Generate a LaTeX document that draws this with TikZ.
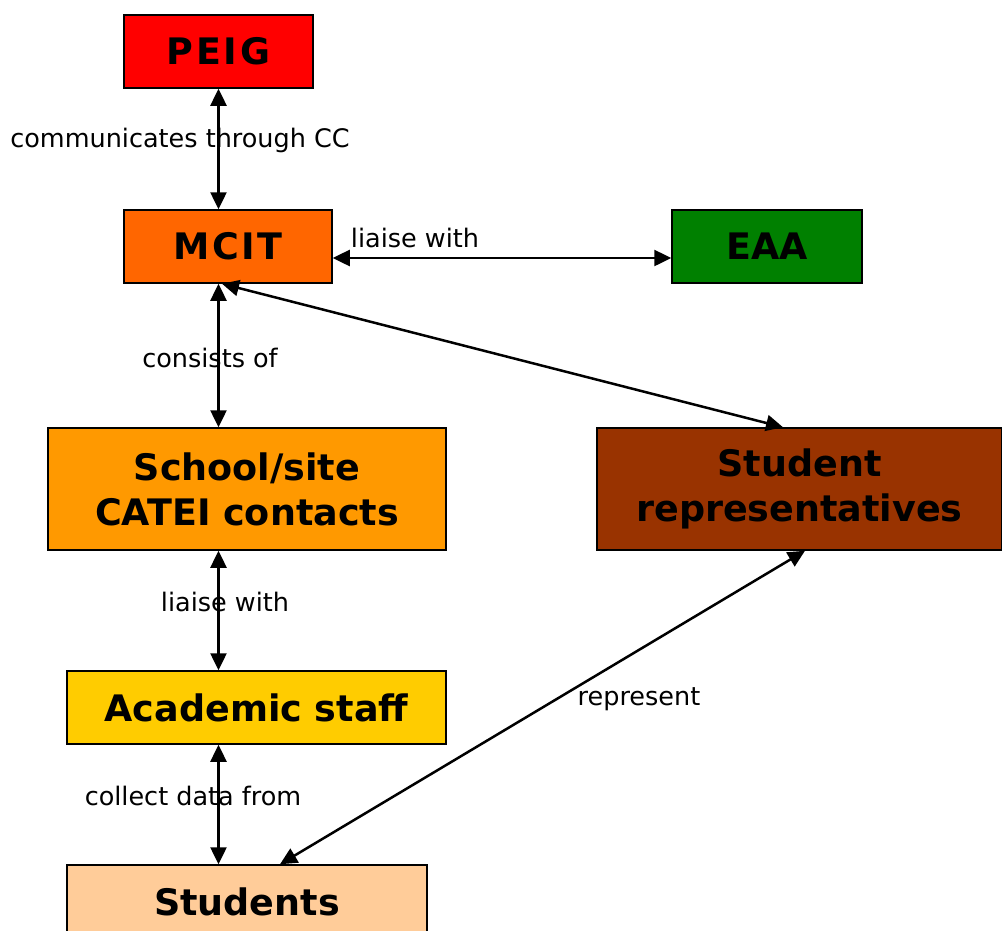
\documentclass[tikz,border=0pt]{standalone}
\usepackage{fontspec}
\setmainfont{DejaVu Sans}
\usetikzlibrary{arrows.meta}
\definecolor{cpeig}{HTML}{FF0000}
\definecolor{cmcit}{HTML}{FF6600}
\definecolor{ceaa}{HTML}{008000}
\definecolor{cschool}{HTML}{FF9900}
\definecolor{creps}{HTML}{993300}
\definecolor{cacad}{HTML}{FFCC00}
\definecolor{cstud}{HTML}{FFCC99}
\tikzset{
  box/.style={draw=black, line width=1.5pt, inner sep=0pt, align=center,
    font=\fontsize{36.5}{45}\selectfont\bfseries},
  lbl/.style={inner sep=0pt, font=\fontsize{25.5}{30}\selectfont},
  biarrow/.style={line width=2.5pt, {Triangle[length=17pt,width=16pt]}-{Triangle[length=17pt,width=16pt]}},
}
\begin{document}
\begin{tikzpicture}[x=1pt,y=-1pt]
\useasboundingbox (0,0) rectangle (1002,930);
\clip (0,0) rectangle (1002,930);
\fill[white] (0,0) rectangle (1002,930);
\node[box, fill=cpeig, minimum width=189pt, minimum height=73pt] (peig) at (218.5,51.5) {\addfontfeature{LetterSpace=8}PEIG};
\node[box, fill=cmcit, minimum width=208pt, minimum height=73pt] (mcit) at (228,246.5) {\addfontfeature{LetterSpace=6}MCIT};
\node[box, fill=ceaa, minimum width=190pt, minimum height=73pt] (eaa) at (767,246.5) {EAA};
\node[box, fill=cschool, minimum width=398pt, minimum height=122pt] (school) at (247,489) {School/site\\CATEI contacts};
\node[box, fill=creps, minimum width=405pt, minimum height=122pt] (reps) at (799.5,489) {Student\\representatives};
\node[box, fill=cacad, minimum width=379pt, minimum height=73pt] (acad) at (256.5,707.5) {Academic staff};
\node[box, fill=cstud, minimum width=360pt, minimum height=73pt] (stud) at (247,901.5) {Students};

\draw[biarrow] (peig.south) -- (peig.south |- mcit.north);
\draw[biarrow] ([yshift=-11.5pt]mcit.east) -- ([yshift=-11.5pt]eaa.west);
\draw[biarrow] (peig.south |- mcit.south) -- (peig.south |- school.north);
\draw[biarrow] ([xshift=-6pt]mcit.south) -- ([xshift=-16.5pt]reps.north);
\draw[biarrow] (peig.south |- school.south) -- (peig.south |- acad.north);
\draw[biarrow] (peig.south |- acad.south) -- (peig.south |- stud.north);
\draw[biarrow] ([xshift=33pt]stud.north) -- ([xshift=5.5pt]reps.south);

\node[lbl] (l1) at (180,140) {communicates through CC};
\node[lbl] (l2) at (415,238) {liaise with};
\node[lbl] (l3) at (210,358) {consists of};
\node[lbl] (l4) at (225,602) {liaise with};
\node[lbl] (l5) at (193,796) {collect data from};
\node[lbl] (l6) at (639,699) {represent};
\end{tikzpicture}
\end{document}
